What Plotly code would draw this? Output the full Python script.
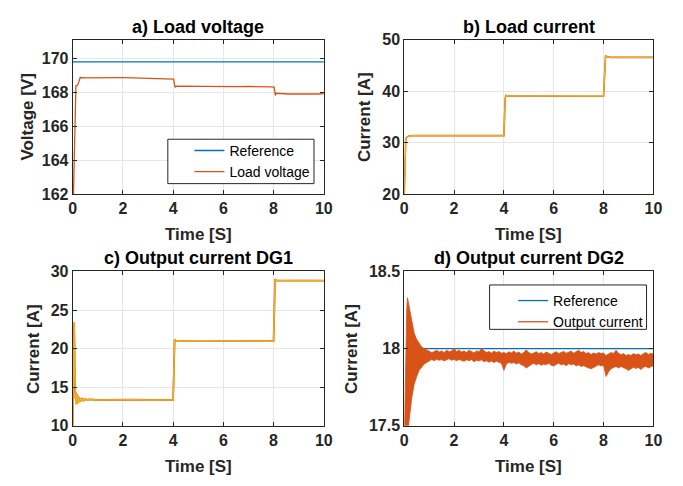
import plotly.graph_objects as go

FONT = "Liberation Sans, Arial, sans-serif"
BLUE = "#0072BD"
ORANGE = "#D95319"
YELLOW = "#EDB120"
AXC = "#262626"
GRID = "#E6E6E6"
W, H = 683, 486

# ---------------- data ----------------
# a) Load voltage
t_a = [0.0, 0.03, 0.05, 0.07, 0.09, 0.11, 0.13, 0.16, 0.2, 0.24, 0.27, 0.3, 0.5, 0.8, 1.0, 1.3,
       1.6, 2.0, 2.4, 2.8, 3.2, 3.6, 3.9, 4.02, 4.05, 4.08, 4.12, 4.5, 5.0, 5.5, 6.0, 6.5, 7.0,
       7.5, 7.9, 8.02, 8.05, 8.07, 8.1, 8.3, 8.6, 9.0, 9.4, 9.8, 10.0]
v_load = [160.0, 162.0, 164.6, 166.2, 167.5, 168.3, 168.4, 168.4, 168.45, 168.6, 168.85, 168.88,
          168.86, 168.87, 168.86, 168.88, 168.86, 168.87, 168.86, 168.85, 168.84, 168.83, 168.8,
          168.78, 168.5, 168.3, 168.37, 168.36, 168.35, 168.37, 168.35, 168.34, 168.35, 168.36,
          168.33, 168.32, 168.0, 167.82, 167.95, 167.93, 167.91, 167.92, 167.9, 167.91, 167.93]
t_ref = [0.0, 10.0]
v_ref = [169.8, 169.8]

# b) Load current
t_b = [0.0, 0.02, 0.04, 0.06, 0.09, 0.13, 0.2, 0.4, 1.0, 2.0, 3.0, 4.0, 4.05, 4.08, 4.12, 5.0,
       6.0, 7.0, 8.0, 8.05, 8.08, 8.12, 8.3, 9.0, 10.0]
i_load = [20.0, 26.0, 29.5, 30.6, 31.0, 31.2, 31.35, 31.4, 31.4, 31.4, 31.4, 31.4, 38.6, 39.2,
          39.1, 39.05, 39.05, 39.05, 39.05, 46.4, 46.95, 46.7, 46.6, 46.6, 46.6]

# c) Output current DG1
t_c = [0.0, 0.03, 0.06, 0.09, 0.11, 0.13, 0.15, 0.17, 0.19, 0.21, 0.23, 0.25, 0.28, 0.31,
       0.35, 0.4, 0.45, 0.5, 0.6, 0.7, 1.0, 1.5, 2.0, 2.5, 3.0, 3.5, 4.0, 4.03, 4.06,
       4.1, 4.3, 5.0, 6.0, 7.0, 8.0, 8.03, 8.06, 8.1, 8.3, 9.0, 10.0]
i_dg1 = [10.0, 17.0, 23.4, 16.0, 13.5, 14.3, 12.8, 14.1, 12.9, 13.9, 13.0, 13.7, 13.1, 13.6,
         13.2, 13.5, 13.3, 13.45, 13.38, 13.42, 13.35, 13.38, 13.36, 13.38, 13.36, 13.37, 13.35,
         17.0, 21.2, 21.05, 21.0, 21.02, 21.0, 21.02, 21.0, 25.0, 29.0, 28.85, 28.8, 28.82, 28.8]

# d) Output current DG2 (upper / lower envelope of the noisy signal)
t_d = [0.0, 0.05, 0.1, 0.13, 0.2, 0.3, 0.4, 0.5, 0.6, 0.7, 0.8, 0.9,
       1.0, 1.1, 1.2, 1.3, 1.4, 1.5, 1.6, 1.7, 1.8, 1.9,
       2.0, 2.1, 2.2, 2.3, 2.4, 2.5, 2.6, 2.7, 2.8, 2.9,
       3.0, 3.1, 3.2, 3.3, 3.4, 3.5, 3.6, 3.7, 3.8, 3.9,
       4.0, 4.1, 4.2, 4.3, 4.4, 4.5, 4.6, 4.7, 4.8, 4.9,
       5.0, 5.1, 5.2, 5.3, 5.4, 5.5, 5.6, 5.7, 5.8, 5.9,
       6.0, 6.1, 6.2, 6.3, 6.4, 6.5, 6.6, 6.7, 6.8, 6.9,
       7.0, 7.1, 7.2, 7.3, 7.4, 7.5, 7.6, 7.7, 7.8, 7.9,
       8.0, 8.1, 8.2, 8.3, 8.4, 8.5, 8.6, 8.7, 8.8, 8.9,
       9.0, 9.1, 9.2, 9.3, 9.4, 9.5, 9.6, 9.7, 9.8, 9.9, 10.0]
i_dg2_upper = [17.4, 17.9, 18.25, 18.33, 18.27, 18.17, 18.10, 18.06, 18.03, 18.01, 18.0, 17.99,
               17.985, 17.975, 17.98, 17.99, 17.978, 17.985, 17.975, 17.99, 17.98, 17.985,
               18.003, 17.98, 17.99, 17.978, 17.985, 17.975, 17.99, 17.98, 17.972, 17.985,
               17.98, 18.0, 17.985, 17.975, 17.982, 17.97, 17.985, 17.975, 17.982, 17.97,
               17.975, 17.968, 17.98, 17.972, 17.985, 17.97, 17.978, 17.965, 17.975, 17.992,
               17.975, 17.965, 17.972, 17.98, 17.968, 17.975, 17.965, 17.978, 17.97, 17.962,
               17.972, 17.98, 17.968, 17.975, 17.982, 17.97, 17.975, 17.985, 17.97, 17.98,
               17.99, 17.975, 17.982, 17.968, 17.975, 17.962, 17.972, 17.965, 17.975, 17.968,
               17.972, 17.955, 17.965, 17.975, 17.968, 17.99, 17.97, 17.96, 17.968, 17.955,
               17.962, 17.955, 17.968, 17.96, 17.965, 17.955, 17.968, 17.975, 17.962, 17.97, 17.965]
i_dg2_lower = [17.4, 17.4, 17.4, 17.42, 17.5, 17.68, 17.77, 17.82, 17.86, 17.88, 17.9, 17.91,
               17.92, 17.93, 17.922, 17.932, 17.925, 17.93, 17.92, 17.928, 17.935, 17.925,
               17.93, 17.922, 17.93, 17.925, 17.918, 17.928, 17.922, 17.93, 17.915, 17.925,
               17.92, 17.928, 17.915, 17.922, 17.912, 17.92, 17.91, 17.918, 17.912, 17.905,
               17.86, 17.9, 17.912, 17.905, 17.91, 17.9, 17.908, 17.895, 17.89, 17.875,
               17.885, 17.898, 17.905, 17.895, 17.902, 17.892, 17.9, 17.895, 17.905, 17.892,
               17.888, 17.898, 17.905, 17.895, 17.9, 17.89, 17.902, 17.895, 17.9, 17.888,
               17.895, 17.885, 17.89, 17.88, 17.875, 17.87, 17.878, 17.885, 17.895, 17.888,
               17.892, 17.82, 17.85, 17.87, 17.878, 17.885, 17.875, 17.885, 17.88, 17.87,
               17.858, 17.87, 17.88, 17.872, 17.878, 17.865, 17.88, 17.885, 17.875, 17.882, 17.89]
i_ref = [18.0, 18.0]

x_ticks = [0, 2, 4, 6, 8, 10]

# ---------------- layout helpers ----------------
def px_x(a, b):
    return [a / W, b / W]

def px_y(top, bottom):
    return [1 - bottom / H, 1 - top / H]

def axis(domain, rng, tickvals, anchor, ticktext=None):
    d = dict(domain=domain, range=rng, tickvals=tickvals, anchor=anchor,
             ticks="inside", ticklen=4, tickcolor=AXC, tickwidth=1,
             showline=True, linecolor=AXC, linewidth=1, mirror="ticks",
             showgrid=True, gridcolor=GRID, gridwidth=1, zeroline=False,
             tickfont=dict(family=FONT, size=16, color=AXC, weight="bold"))
    if ticktext is not None:
        d["ticktext"] = ticktext
    return d

fig = go.Figure()

# a
fig.add_trace(go.Scatter(x=t_ref, y=v_ref, mode="lines", line=dict(color=BLUE, width=1.3),
                         name="Reference", xaxis="x", yaxis="y", legend="legend"))
fig.add_trace(go.Scatter(x=t_a, y=v_load, mode="lines", line=dict(color=ORANGE, width=1.3),
                         name="Load voltage", xaxis="x", yaxis="y", legend="legend"))
# b
fig.add_trace(go.Scatter(x=t_b, y=i_load, mode="lines", line=dict(color=ORANGE, width=1.6),
                         showlegend=False, xaxis="x2", yaxis="y2"))
fig.add_trace(go.Scatter(x=t_b, y=i_load, mode="lines", line=dict(color=YELLOW, width=1.3),
                         showlegend=False, xaxis="x2", yaxis="y2"))
# c
fig.add_trace(go.Scatter(x=t_c, y=i_dg1, mode="lines", line=dict(color=ORANGE, width=1.8),
                         showlegend=False, xaxis="x3", yaxis="y3"))
fig.add_trace(go.Scatter(x=t_c, y=i_dg1, mode="lines", line=dict(color=YELLOW, width=1.5),
                         showlegend=False, xaxis="x3", yaxis="y3"))
# d
fig.add_trace(go.Scatter(x=t_ref, y=i_ref, mode="lines", line=dict(color=BLUE, width=1.3),
                         name="Reference", xaxis="x4", yaxis="y4", legend="legend2"))
fig.add_trace(go.Scatter(x=t_d + t_d[::-1], y=i_dg2_upper + i_dg2_lower[::-1], mode="lines",
                         fill="toself", fillcolor=ORANGE, line=dict(color=ORANGE, width=0.8),
                         showlegend=False, xaxis="x4", yaxis="y4"))
fig.add_trace(go.Scatter(x=[None], y=[None], mode="lines", line=dict(color=ORANGE, width=1.3),
                         name="Output current", xaxis="x4", yaxis="y4", legend="legend2"))

top_row = px_y(33, 193)
bot_row = px_y(273, 433)
left_col = px_x(70, 326)
right_col = px_x(408, 662)

legend_font = dict(family=FONT, size=14, color="black")

fig.update_layout(
    width=W, height=H, margin=dict(l=0, r=0, t=0, b=0),
    paper_bgcolor="white", plot_bgcolor="white",
    xaxis=axis(left_col, [0, 10], x_ticks, "y"),
    yaxis=axis(top_row, [162, 171.1], [162, 164, 166, 168, 170], "x"),
    xaxis2=axis(right_col, [0, 10], x_ticks, "y2"),
    yaxis2=axis(top_row, [20, 50], [20, 30, 40, 50], "x2"),
    xaxis3=axis(left_col, [0, 10], x_ticks, "y3"),
    yaxis3=axis(bot_row, [10, 30], [10, 15, 20, 25, 30], "x3"),
    xaxis4=axis(right_col, [0, 10], x_ticks, "y4"),
    yaxis4=axis(bot_row, [17.5, 18.5], [17.5, 18, 18.5], "x4", ["17.5", "18", "18.5"]),
    legend=dict(x=189 / W, y=1 - 131.5 / H, xanchor="left", yanchor="top",
                bgcolor="rgba(0,0,0,0)", borderwidth=0, font=legend_font,
                tracegroupgap=0),
    legend2=dict(x=519 / W, y=1 - 287 / H, xanchor="left", yanchor="top",
                 bgcolor="rgba(0,0,0,0)", borderwidth=0, font=legend_font,
                 tracegroupgap=0),
    shapes=[
        dict(type="rect", xref="paper", yref="paper", layer="above",
             x0=167 / W, x1=316 / W, y0=1 - 182 / H, y1=1 - 136 / H,
             fillcolor="white", line=dict(color=AXC, width=1)),
        dict(type="rect", xref="paper", yref="paper", layer="above",
             x0=495 / W, x1=655 / W, y0=1 - 333 / H, y1=1 - 287 / H,
             fillcolor="white", line=dict(color=AXC, width=1)),
    ],
)

title_font = dict(family=FONT, size=18, color="black", weight="bold")
label_font = dict(family=FONT, size=17, color=AXC, weight="bold")
ann = []
for text, cx, cy in [("a) Load voltage", 198, 20), ("b) Load current", 535, 20),
                     ("c) Output current DG1", 198, 259), ("d) Output current DG2", 535, 259)]:
    ann.append(dict(text=text, x=cx / W, y=1 - cy / H, xref="paper", yref="paper",
                    xanchor="center", yanchor="middle", showarrow=False, font=title_font))
for cx, cy in [(198, 235), (535, 235), (198, 475), (535, 475)]:
    ann.append(dict(text="Time [S]", x=cx / W, y=1 - cy / H, xref="paper", yref="paper",
                    xanchor="center", yanchor="middle", showarrow=False, font=label_font))
for text, cx, cy in [("Voltage [V]", 24, 113), ("Current [A]", 367, 113),
                     ("Current [A]", 30, 353), ("Current [A]", 354, 353)]:
    ann.append(dict(text=text, x=cx / W, y=1 - cy / H, xref="paper", yref="paper",
                    xanchor="center", yanchor="middle", showarrow=False, textangle=-90,
                    font=label_font))
fig.update_layout(annotations=ann)

fig.write_html("out.html")
